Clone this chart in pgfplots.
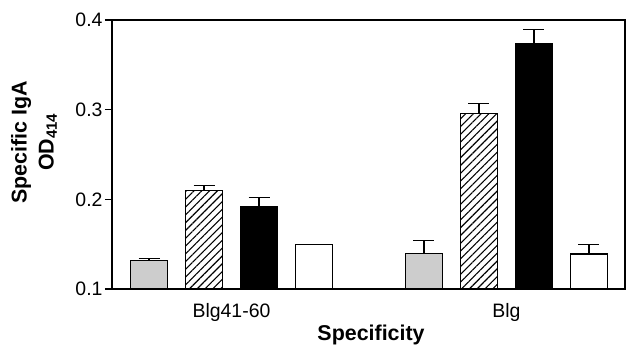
\documentclass[border=0pt]{standalone}
\usepackage{fontspec}
\setmainfont{Liberation Sans}
\usepackage{pgfplots}
\pgfplotsset{compat=1.18}
\usetikzlibrary{patterns.meta}
\begin{document}
\begin{tikzpicture}
\useasboundingbox (-112bp,-57bp) rectangle (514bp,289bp);
\begin{axis}[
  scale only axis,
  width=513bp, height=269bp,
  at={(0,0)}, anchor=south west,
  xmin=0.327, xmax=9.655,
  ymin=0.1, ymax=0.4,
  ytick={0.1,0.2,0.3,0.4},
  yticklabel style={/pgf/number format/fixed,/pgf/number format/precision=1,/pgf/number format/fixed zerofill},
  /pgf/number format/assume math mode=true,
  xtick={2.5,7.5},
  xticklabels={Blg41-60,Blg},
  major x tick style={draw=none},
  ytick pos=left,
  tick align=outside,
  major tick length=7bp,
  tick style={line width=1.1pt,black},
  axis line style={line width=1.2pt},
  ticklabel style={font=\fontsize{19.5}{21}\selectfont},
  yticklabel style={xshift=1bp},
  xticklabel style={yshift=-4bp},
  ylabel={Specific IgA\\OD\textsubscript{414}},
  ylabel style={at={(axis description cs:-0.152,0.546)},anchor=center,align=center,font=\fontsize{21.5}{27}\selectfont\bfseries},
  xlabel={Specificity},
  xlabel style={at={(axis description cs:0.505,-0.171)},anchor=center,font=\fontsize{21.5}{24}\selectfont\bfseries},
  ybar, bar width=37bp,
  error bars/y dir=plus, error bars/y explicit,
  error bars/error bar style={line width=1.2pt,black},
  error bars/error mark options={rotate=90,mark size=10.5bp,line width=1.2pt,black},
]
\addplot[bar shift=0pt,draw=black,line width=1.1pt,fill={rgb,255:red,205;green,205;blue,205}]
  coordinates {(1,0.132) +- (0,0.002) (6,0.140) +- (0,0.014)};
\addplot[bar shift=0pt,draw=black,line width=1.1pt,pattern={Lines[angle=45,distance=5.5bp,line width=1.1bp]}]
  coordinates {(2,0.210) +- (0,0.005) (7,0.296) +- (0,0.011)};
\addplot[bar shift=0pt,draw=black,line width=1.1pt,fill=black]
  coordinates {(3,0.192) +- (0,0.010) (8,0.374) +- (0,0.015)};
\addplot[bar shift=0pt,draw=black,line width=1.1pt,fill=white]
  coordinates {(4,0.150) +- (0,0.000) (9,0.139) +- (0,0.011)};
\end{axis}
\end{tikzpicture}
\end{document}
